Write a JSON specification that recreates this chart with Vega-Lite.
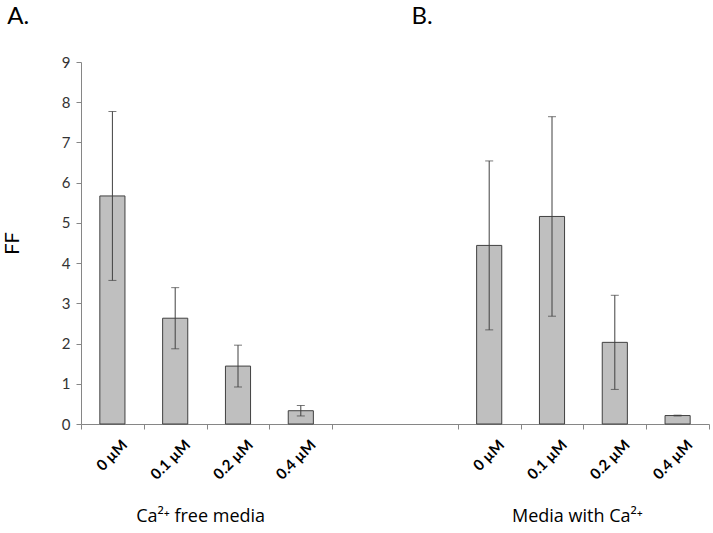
{
  "$schema": "https://vega.github.io/schema/vega-lite/v6.json",
  "width": 628,
  "height": 362,
  "autosize": {"type": "none"},
  "padding": {"left": 81, "top": 62, "right": 4, "bottom": 109},
  "background": "white",
  "config": {"view": {"stroke": null}, "font": "Lato"},
  "datasets": {
    "bars": [
      {"cat": "A|0 µM", "ff": 5.67, "err": 2.1},
      {"cat": "A|0.1 µM", "ff": 2.63, "err": 0.76},
      {"cat": "A|0.2 µM", "ff": 1.44, "err": 0.52},
      {"cat": "A|0.4 µM", "ff": 0.33, "err": 0.13},
      {"cat": "B|0 µM", "ff": 4.44, "err": 2.1},
      {"cat": "B|0.1 µM", "ff": 5.16, "err": 2.48},
      {"cat": "B|0.2 µM", "ff": 2.03, "err": 1.17},
      {"cat": "B|0.4 µM", "ff": 0.21, "err": 0.01}
    ],
    "groups": [
      {"label": "Ca²⁺ free media", "anchor": "A|0.2 µM"},
      {"label": "Media with Ca²⁺", "anchor": "B|0.2 µM"}
    ],
    "panelA": [
      {"label": "A.", "anchor": "A|0 µM"}
    ],
    "panelB": [
      {"label": "B.", "anchor": "g2"}
    ]
  },
  "layer": [
    {
      "data": {"name": "bars"},
      "mark": {"type": "bar", "fill": "#bfbfbf", "stroke": "#404040", "strokeWidth": 1, "width": {"band": 0.4}},
      "encoding": {
        "x": {
          "field": "cat", "type": "nominal", "sort": null,
          "scale": {"domain": ["A|0 µM", "A|0.1 µM", "A|0.2 µM", "A|0.4 µM", "g1", "g2", "B|0 µM", "B|0.1 µM", "B|0.2 µM", "B|0.4 µM"], "paddingInner": 0, "paddingOuter": 0},
          "axis": {
            "title": null,
            "labelExpr": "isString(datum.value) && length(datum.value) > 2 ? substring(datum.value, 2) : ''",
            "labelAngle": -45,
            "labelFontSize": 15,
            "labelFontWeight": "bold",
            "labelColor": "black",
            "labelOffset": 7,
            "labelPadding": 8,
            "tickBand": "extent",
            "tickSize": 5,
            "tickColor": "#868686",
            "domainColor": "#868686",
            "tickOpacity": {"condition": {"test": "datum.value === 'g1'", "value": 0}, "value": 1}
          }
        },
        "y": {
          "field": "ff", "type": "quantitative", "title": "FF",
          "scale": {"domain": [0, 9], "nice": false},
          "axis": {
            "values": [0, 1, 2, 3, 4, 5, 6, 7, 8, 9],
            "grid": false,
            "title": "FF",
            "titleFontSize": 20,
            "titleFontWeight": "normal",
            "titleColor": "black",
            "titlePadding": 39,
            "labelFontSize": 15,
            "labelColor": "#333333",
            "labelPadding": 6,
            "tickSize": 5,
            "tickColor": "#868686",
            "domainColor": "#868686"
          }
        }
      }
    },
    {
      "data": {"name": "bars"},
      "mark": {"type": "errorbar", "color": "#404040", "thickness": 1, "ticks": {"size": 8, "color": "#404040"}},
      "encoding": {
        "x": {"field": "cat", "type": "nominal"},
        "y": {"field": "ff", "type": "quantitative", "title": "FF"},
        "yError": {"field": "err"}
      }
    },
    {
      "data": {"name": "groups"},
      "mark": {"type": "text", "fontSize": 18, "font": "Open Sans", "color": "black", "baseline": "middle", "align": "center", "dx": -6},
      "encoding": {
        "x": {"field": "anchor", "type": "nominal", "bandPosition": 0},
        "y": {"datum": -2.3, "type": "quantitative"},
        "text": {"field": "label"}
      }
    },
    {
      "data": {"name": "panelA"},
      "mark": {"type": "text", "fontSize": 24, "font": "Lato", "color": "black", "baseline": "middle", "align": "center"},
      "encoding": {
        "x": {"field": "anchor", "type": "nominal", "bandPosition": -1.0},
        "y": {"datum": 10.12, "type": "quantitative"},
        "text": {"field": "label"}
      }
    },
    {
      "data": {"name": "panelB"},
      "mark": {"type": "text", "fontSize": 24, "font": "Lato", "color": "black", "baseline": "middle", "align": "center"},
      "encoding": {
        "x": {"field": "anchor", "type": "nominal", "bandPosition": 0.43},
        "y": {"datum": 10.12, "type": "quantitative"},
        "text": {"field": "label"}
      }
    }
  ]
}
